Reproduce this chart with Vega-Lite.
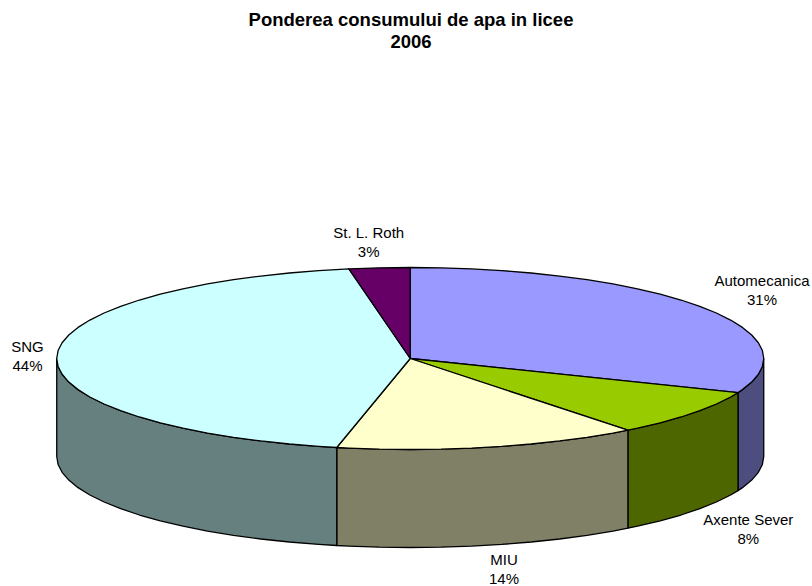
{"$schema":"https://vega.github.io/schema/vega-lite/v6.json","width":812,"height":586,"padding":0,"autosize":"none","background":"white","view":{"stroke":null},
"title":{"text":["Ponderea consumului de apa in licee","2006"],"font":"Liberation Sans","fontSize":18.5,"fontWeight":"bold","color":"black","anchor":"middle","lineHeight":22,"baseline":"top","dy":55,"dx":5},
"datasets":{"faces":[
{"part":"Automecanica side","i":0,"u":1,"v":0},{"part":"Automecanica side","i":1,"u":0.9962,"v":-0.0872},{"part":"Automecanica side","i":2,"u":0.9848,"v":-0.1736},{"part":"Automecanica side","i":3,"u":0.9659,"v":-0.2588},{"part":"Automecanica side","i":4,"u":0.9397,"v":-0.342},{"part":"Automecanica side","i":5,"u":0.9272,"v":-0.3746},{"part":"Automecanica side","i":6,"u":0.9272,"v":-1.4516},{"part":"Automecanica side","i":7,"u":0.9397,"v":-1.419},{"part":"Automecanica side","i":8,"u":0.9659,"v":-1.3358},{"part":"Automecanica side","i":9,"u":0.9848,"v":-1.2506},{"part":"Automecanica side","i":10,"u":0.9962,"v":-1.1642},{"part":"Automecanica side","i":11,"u":1,"v":-1.077},{"part":"Automecanica side","i":12,"u":1,"v":0},
{"part":"Axente Sever side","i":0,"u":0.9272,"v":-0.3746},{"part":"Axente Sever side","i":1,"u":0.9063,"v":-0.4226},{"part":"Axente Sever side","i":2,"u":0.866,"v":-0.5},{"part":"Axente Sever side","i":3,"u":0.8192,"v":-0.5736},{"part":"Axente Sever side","i":4,"u":0.766,"v":-0.6428},{"part":"Axente Sever side","i":5,"u":0.7071,"v":-0.7071},{"part":"Axente Sever side","i":6,"u":0.6428,"v":-0.766},{"part":"Axente Sever side","i":7,"u":0.6157,"v":-0.788},{"part":"Axente Sever side","i":8,"u":0.6157,"v":-1.865},{"part":"Axente Sever side","i":9,"u":0.6428,"v":-1.843},{"part":"Axente Sever side","i":10,"u":0.7071,"v":-1.7841},{"part":"Axente Sever side","i":11,"u":0.766,"v":-1.7198},{"part":"Axente Sever side","i":12,"u":0.8192,"v":-1.6506},{"part":"Axente Sever side","i":13,"u":0.866,"v":-1.577},{"part":"Axente Sever side","i":14,"u":0.9063,"v":-1.4996},{"part":"Axente Sever side","i":15,"u":0.9272,"v":-1.4516},{"part":"Axente Sever side","i":16,"u":0.9272,"v":-0.3746},
{"part":"MIU side","i":0,"u":0.6157,"v":-0.788},{"part":"MIU side","i":1,"u":0.5736,"v":-0.8192},{"part":"MIU side","i":2,"u":0.5,"v":-0.866},{"part":"MIU side","i":3,"u":0.4226,"v":-0.9063},{"part":"MIU side","i":4,"u":0.342,"v":-0.9397},{"part":"MIU side","i":5,"u":0.2588,"v":-0.9659},{"part":"MIU side","i":6,"u":0.1736,"v":-0.9848},{"part":"MIU side","i":7,"u":0.0872,"v":-0.9962},{"part":"MIU side","i":8,"u":0,"v":-1},{"part":"MIU side","i":9,"u":-0.0872,"v":-0.9962},{"part":"MIU side","i":10,"u":-0.1736,"v":-0.9848},{"part":"MIU side","i":11,"u":-0.2079,"v":-0.9781},{"part":"MIU side","i":12,"u":-0.2079,"v":-2.0551},{"part":"MIU side","i":13,"u":-0.1736,"v":-2.0618},{"part":"MIU side","i":14,"u":-0.0872,"v":-2.0732},{"part":"MIU side","i":15,"u":0,"v":-2.077},{"part":"MIU side","i":16,"u":0.0872,"v":-2.0732},{"part":"MIU side","i":17,"u":0.1736,"v":-2.0618},{"part":"MIU side","i":18,"u":0.2588,"v":-2.0429},{"part":"MIU side","i":19,"u":0.342,"v":-2.0167},{"part":"MIU side","i":20,"u":0.4226,"v":-1.9833},{"part":"MIU side","i":21,"u":0.5,"v":-1.943},{"part":"MIU side","i":22,"u":0.5736,"v":-1.8962},{"part":"MIU side","i":23,"u":0.6157,"v":-1.865},{"part":"MIU side","i":24,"u":0.6157,"v":-0.788},
{"part":"SNG side","i":0,"u":-0.2079,"v":-0.9781},{"part":"SNG side","i":1,"u":-0.2588,"v":-0.9659},{"part":"SNG side","i":2,"u":-0.342,"v":-0.9397},{"part":"SNG side","i":3,"u":-0.4226,"v":-0.9063},{"part":"SNG side","i":4,"u":-0.5,"v":-0.866},{"part":"SNG side","i":5,"u":-0.5736,"v":-0.8192},{"part":"SNG side","i":6,"u":-0.6428,"v":-0.766},{"part":"SNG side","i":7,"u":-0.7071,"v":-0.7071},{"part":"SNG side","i":8,"u":-0.766,"v":-0.6428},{"part":"SNG side","i":9,"u":-0.8192,"v":-0.5736},{"part":"SNG side","i":10,"u":-0.866,"v":-0.5},{"part":"SNG side","i":11,"u":-0.9063,"v":-0.4226},{"part":"SNG side","i":12,"u":-0.9397,"v":-0.342},{"part":"SNG side","i":13,"u":-0.9659,"v":-0.2588},{"part":"SNG side","i":14,"u":-0.9848,"v":-0.1736},{"part":"SNG side","i":15,"u":-0.9962,"v":-0.0872},{"part":"SNG side","i":16,"u":-1,"v":0},{"part":"SNG side","i":17,"u":-1,"v":-1.077},{"part":"SNG side","i":18,"u":-0.9962,"v":-1.1642},{"part":"SNG side","i":19,"u":-0.9848,"v":-1.2506},{"part":"SNG side","i":20,"u":-0.9659,"v":-1.3358},{"part":"SNG side","i":21,"u":-0.9397,"v":-1.419},{"part":"SNG side","i":22,"u":-0.9063,"v":-1.4996},{"part":"SNG side","i":23,"u":-0.866,"v":-1.577},{"part":"SNG side","i":24,"u":-0.8192,"v":-1.6506},{"part":"SNG side","i":25,"u":-0.766,"v":-1.7198},{"part":"SNG side","i":26,"u":-0.7071,"v":-1.7841},{"part":"SNG side","i":27,"u":-0.6428,"v":-1.843},{"part":"SNG side","i":28,"u":-0.5736,"v":-1.8962},{"part":"SNG side","i":29,"u":-0.5,"v":-1.943},{"part":"SNG side","i":30,"u":-0.4226,"v":-1.9833},{"part":"SNG side","i":31,"u":-0.342,"v":-2.0167},{"part":"SNG side","i":32,"u":-0.2588,"v":-2.0429},{"part":"SNG side","i":33,"u":-0.2079,"v":-2.0551},{"part":"SNG side","i":34,"u":-0.2079,"v":-0.9781},
{"part":"Automecanica","i":0,"u":0,"v":0},{"part":"Automecanica","i":1,"u":0,"v":1},{"part":"Automecanica","i":2,"u":0.0872,"v":0.9962},{"part":"Automecanica","i":3,"u":0.1736,"v":0.9848},{"part":"Automecanica","i":4,"u":0.2588,"v":0.9659},{"part":"Automecanica","i":5,"u":0.342,"v":0.9397},{"part":"Automecanica","i":6,"u":0.4226,"v":0.9063},{"part":"Automecanica","i":7,"u":0.5,"v":0.866},{"part":"Automecanica","i":8,"u":0.5736,"v":0.8192},{"part":"Automecanica","i":9,"u":0.6428,"v":0.766},{"part":"Automecanica","i":10,"u":0.7071,"v":0.7071},{"part":"Automecanica","i":11,"u":0.766,"v":0.6428},{"part":"Automecanica","i":12,"u":0.8192,"v":0.5736},{"part":"Automecanica","i":13,"u":0.866,"v":0.5},{"part":"Automecanica","i":14,"u":0.9063,"v":0.4226},{"part":"Automecanica","i":15,"u":0.9397,"v":0.342},{"part":"Automecanica","i":16,"u":0.9659,"v":0.2588},{"part":"Automecanica","i":17,"u":0.9848,"v":0.1736},{"part":"Automecanica","i":18,"u":0.9962,"v":0.0872},{"part":"Automecanica","i":19,"u":1,"v":0},{"part":"Automecanica","i":20,"u":0.9962,"v":-0.0872},{"part":"Automecanica","i":21,"u":0.9848,"v":-0.1736},{"part":"Automecanica","i":22,"u":0.9659,"v":-0.2588},{"part":"Automecanica","i":23,"u":0.9397,"v":-0.342},{"part":"Automecanica","i":24,"u":0.9272,"v":-0.3746},{"part":"Automecanica","i":25,"u":0,"v":0},
{"part":"Axente Sever","i":0,"u":0,"v":0},{"part":"Axente Sever","i":1,"u":0.9272,"v":-0.3746},{"part":"Axente Sever","i":2,"u":0.9063,"v":-0.4226},{"part":"Axente Sever","i":3,"u":0.866,"v":-0.5},{"part":"Axente Sever","i":4,"u":0.8192,"v":-0.5736},{"part":"Axente Sever","i":5,"u":0.766,"v":-0.6428},{"part":"Axente Sever","i":6,"u":0.7071,"v":-0.7071},{"part":"Axente Sever","i":7,"u":0.6428,"v":-0.766},{"part":"Axente Sever","i":8,"u":0.6157,"v":-0.788},{"part":"Axente Sever","i":9,"u":0,"v":0},
{"part":"MIU","i":0,"u":0,"v":0},{"part":"MIU","i":1,"u":0.6157,"v":-0.788},{"part":"MIU","i":2,"u":0.5736,"v":-0.8192},{"part":"MIU","i":3,"u":0.5,"v":-0.866},{"part":"MIU","i":4,"u":0.4226,"v":-0.9063},{"part":"MIU","i":5,"u":0.342,"v":-0.9397},{"part":"MIU","i":6,"u":0.2588,"v":-0.9659},{"part":"MIU","i":7,"u":0.1736,"v":-0.9848},{"part":"MIU","i":8,"u":0.0872,"v":-0.9962},{"part":"MIU","i":9,"u":0,"v":-1},{"part":"MIU","i":10,"u":-0.0872,"v":-0.9962},{"part":"MIU","i":11,"u":-0.1736,"v":-0.9848},{"part":"MIU","i":12,"u":-0.2079,"v":-0.9781},{"part":"MIU","i":13,"u":0,"v":0},
{"part":"SNG","i":0,"u":0,"v":0},{"part":"SNG","i":1,"u":-0.2079,"v":-0.9781},{"part":"SNG","i":2,"u":-0.2588,"v":-0.9659},{"part":"SNG","i":3,"u":-0.342,"v":-0.9397},{"part":"SNG","i":4,"u":-0.4226,"v":-0.9063},{"part":"SNG","i":5,"u":-0.5,"v":-0.866},{"part":"SNG","i":6,"u":-0.5736,"v":-0.8192},{"part":"SNG","i":7,"u":-0.6428,"v":-0.766},{"part":"SNG","i":8,"u":-0.7071,"v":-0.7071},{"part":"SNG","i":9,"u":-0.766,"v":-0.6428},{"part":"SNG","i":10,"u":-0.8192,"v":-0.5736},{"part":"SNG","i":11,"u":-0.866,"v":-0.5},{"part":"SNG","i":12,"u":-0.9063,"v":-0.4226},{"part":"SNG","i":13,"u":-0.9397,"v":-0.342},{"part":"SNG","i":14,"u":-0.9659,"v":-0.2588},{"part":"SNG","i":15,"u":-0.9848,"v":-0.1736},{"part":"SNG","i":16,"u":-0.9962,"v":-0.0872},{"part":"SNG","i":17,"u":-1,"v":0},{"part":"SNG","i":18,"u":-0.9962,"v":0.0872},{"part":"SNG","i":19,"u":-0.9848,"v":0.1736},{"part":"SNG","i":20,"u":-0.9659,"v":0.2588},{"part":"SNG","i":21,"u":-0.9397,"v":0.342},{"part":"SNG","i":22,"u":-0.9063,"v":0.4226},{"part":"SNG","i":23,"u":-0.866,"v":0.5},{"part":"SNG","i":24,"u":-0.8192,"v":0.5736},{"part":"SNG","i":25,"u":-0.766,"v":0.6428},{"part":"SNG","i":26,"u":-0.7071,"v":0.7071},{"part":"SNG","i":27,"u":-0.6428,"v":0.766},{"part":"SNG","i":28,"u":-0.5736,"v":0.8192},{"part":"SNG","i":29,"u":-0.5,"v":0.866},{"part":"SNG","i":30,"u":-0.4226,"v":0.9063},{"part":"SNG","i":31,"u":-0.342,"v":0.9397},{"part":"SNG","i":32,"u":-0.2588,"v":0.9659},{"part":"SNG","i":33,"u":-0.1736,"v":0.9848},{"part":"SNG","i":34,"u":0,"v":0},
{"part":"St. L. Roth","i":0,"u":0,"v":0},{"part":"St. L. Roth","i":1,"u":-0.1736,"v":0.9848},{"part":"St. L. Roth","i":2,"u":-0.0872,"v":0.9962},{"part":"St. L. Roth","i":3,"u":0,"v":1},{"part":"St. L. Roth","i":4,"u":0,"v":0}
],
"labels":[
{"name":"Automecanica","share":0.31,"u":0.995,"v":0.747},
{"name":"Axente Sever","share":0.08,"u":0.9563,"v":-1.881},
{"name":"MIU","share":0.14,"u":0.2652,"v":-2.316},
{"name":"SNG","share":0.44,"u":-1.0827,"v":0.024},
{"name":"St. L. Roth","share":0.03,"u":-0.1175,"v":1.275}
]},
"encoding":{
"x":{"field":"u","type":"quantitative","axis":null,"scale":{"domain":[-1.1605,1.1365],"nice":false,"zero":false}},
"y":{"field":"v","type":"quantitative","axis":null,"scale":{"domain":[-2.5,3.9396],"nice":false,"zero":false}}
},
"layer":[
{"data":{"name":"faces"},"mark":{"type":"line","stroke":"black","strokeWidth":1.3,"strokeJoin":"round"},
"encoding":{"order":{"field":"i","type":"quantitative"},
"fill":{"field":"part","type":"nominal","legend":null,"scale":{"domain":["Automecanica","Axente Sever","MIU","SNG","St. L. Roth","Automecanica side","Axente Sever side","MIU side","SNG side"],"range":["#9999FF","#99CC00","#FFFFCC","#CCFFFF","#660066","#4D4D80","#4D6600","#808066","#668080"]}},
"detail":{"field":"part","type":"nominal"}}},
{"data":{"name":"labels"},"mark":{"type":"text","font":"Liberation Sans","fontSize":15,"color":"black","baseline":"middle","align":"center","dy":-9.7},"encoding":{"text":{"field":"name","type":"nominal"}}},
{"data":{"name":"labels"},"mark":{"type":"text","font":"Liberation Sans","fontSize":15,"color":"black","baseline":"middle","align":"center","dy":9.7},"encoding":{"text":{"field":"share","type":"quantitative","format":".0%"}}}
]}
